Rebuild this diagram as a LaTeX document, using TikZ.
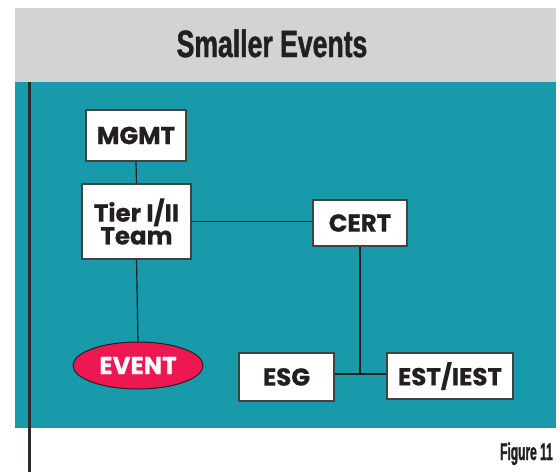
\documentclass[tikz,border=0pt]{standalone}
\usepackage{fontspec}
\setmainfont{Poppins}
\newfontfamily\condfont[FakeStretch=0.7,FakeBold=1.2]{Liberation Sans}
\newfontfamily\figfont[FakeStretch=0.5,FakeBold=1.2]{Liberation Sans}
\newfontfamily\boxfont[FakeBold=0.6]{Poppins}
\definecolor{bandgray}{RGB}{209,211,212}
\definecolor{teal}{RGB}{24,154,170}
\definecolor{eventred}{RGB}{237,24,82}
\definecolor{ink}{RGB}{35,31,32}
\usetikzlibrary{shapes.geometric}
\tikzset{
  stepbox/.style={draw=ink!85, line width=1.3pt, fill=white, inner sep=0pt,
    font=\boxfont\bfseries\fontsize{24.5}{21}\selectfont, text=ink, align=center},
  eventnode/.style={ellipse, draw=ink, line width=1pt, fill=eventred, inner sep=0pt,
    font=\boxfont\bfseries\fontsize{24.5}{21}\selectfont, text=white},
  link/.style={draw=ink, line width=1.2pt}
}
\begin{document}
\begin{tikzpicture}[x=1pt,y=-1pt]
\useasboundingbox (0,0) rectangle (560,472);
\fill[white] (0,0) rectangle (560,472);
\fill[bandgray] (15,8) rectangle (556,82);
\fill[teal] (15,82) rectangle (556,428);
\draw[ink!95, line width=3pt] (29.5,82) -- (29.5,472);
\node[font=\condfont\bfseries\fontsize{38}{40}\selectfont, text=ink, anchor=base] (title) at (272,57) {Smaller Events};
\node[font=\figfont\bfseries\fontsize{24}{24}\selectfont, text=ink, anchor=base east, inner sep=0pt] (fig) at (553,460) {Figure 11};

\node[stepbox, minimum width=100pt, minimum height=51pt] (mgmt) at (136,135.5) {MGMT};
\node[stepbox, minimum width=109pt, minimum height=75pt] (tier) at (136.5,221.5) {Tier I/II\\Team};
\node[stepbox, minimum width=94pt, minimum height=46pt] (cert) at (360,223) {CERT};
\node[eventnode, minimum width=130pt, minimum height=47pt] (event) at (138,365.5) {EVENT};
\node[stepbox, minimum width=95pt, minimum height=48pt] (esg) at (286.5,377) {ESG};
\node[stepbox, minimum width=126pt, minimum height=46pt] (est) at (450,376) {EST/IEST};
\coordinate (junc) at (360,374);

\draw[link] (mgmt.south) -- (tier.north);
\draw[link] (tier.east) -- (tier.east -| cert.west);
\draw[link] (tier.south) -- (event.north);
\draw[link] (esg.east |- junc) -- (est.west |- junc);
\draw[link] (cert.south) -- (junc);
\end{tikzpicture}
\end{document}
